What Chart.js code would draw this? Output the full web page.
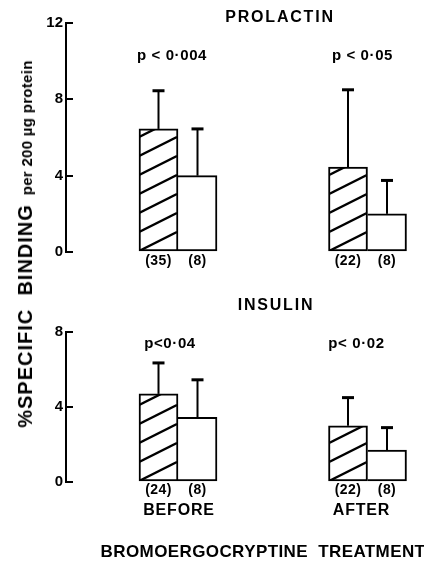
<!DOCTYPE html>
<html><head><meta charset="utf-8">
<script src="https://cdn.jsdelivr.net/npm/chart.js@4"></script>
<style>
html,body{margin:0;padding:0;background:#fff;width:424px;height:566px;overflow:hidden;}
canvas{position:absolute;left:0;}
.t{position:absolute;font-family:"Liberation Sans",Arial,sans-serif;font-weight:bold;color:#000;white-space:nowrap;transform:translate(-50%,-50%);line-height:1;}
</style></head><body>
<canvas id="c1" width="424" height="280" style="top:0px"></canvas>
<canvas id="c2" width="424" height="286" style="top:280px"></canvas>
<div class="t" style="left:280px;top:17px;font-size:16px;letter-spacing:1.8px">PROLACTIN</div>
<div class="t" style="left:276px;top:305px;font-size:16px;letter-spacing:1.8px">INSULIN</div>
<div class="t" style="left:263px;top:551px;font-size:17px;letter-spacing:0.4px">BROMOERGOCRYPTINE&nbsp; TREATMENT</div>
<div class="t" style="left:25px;top:244px;transform:translate(-50%,-50%) rotate(-90deg)"><span style="font-size:20px;letter-spacing:1px">%SPECIFIC&nbsp; BINDING</span><span style="font-size:15px;letter-spacing:0.3px">&nbsp; per 200 µg protein</span></div>
<script>
// ---- data ----
const categories = ['BEFORE', 'AFTER'];

const prolactinHatchedMean = [6.45, 4.45];
const prolactinHatchedSem  = [2.0, 4.05];
const prolactinHatchedN    = [35, 22];
const prolactinOpenMean    = [4.0, 2.0];
const prolactinOpenSem     = [2.45, 1.75];
const prolactinOpenN       = [8, 8];
const prolactinP           = ['p < 0·004', 'p < 0·05'];
const prolactinTicks       = [0, 4, 8, 12];

const insulinHatchedMean = [4.7, 3.0];
const insulinHatchedSem  = [1.65, 1.5];
const insulinHatchedN    = [24, 22];
const insulinOpenMean    = [3.45, 1.7];
const insulinOpenSem     = [2.0, 1.2];
const insulinOpenN       = [8, 8];
const insulinP           = ['p<0·04', 'p< 0·02'];
const insulinTicks       = [0, 4, 8];

// ---- styling ----
const FONT = '"Liberation Sans", Arial, sans-serif';

function makeHatch(ctx) {
  const W = 38, H = 19;
  const c = document.createElement('canvas');
  c.width = W; c.height = H;
  const g = c.getContext('2d');
  g.fillStyle = '#fff'; g.fillRect(0, 0, W, H);
  g.strokeStyle = '#000'; g.lineWidth = 2.4;
  for (let k = 0; k <= 2; k++) {
    g.beginPath(); g.moveTo(0, H * k); g.lineTo(W, H * (k - 1)); g.stroke();
  }
  return ctx.createPattern(c, 'repeat');
}

const annotPlugin = {
  id: 'annot',
  beforeDatasetsDraw(chart, args, o) {
    const bar = chart.getDatasetMeta(0).data[0];
    if (bar && o.pattern && o.pattern.setTransform) {
      o.pattern.setTransform(new DOMMatrix([1, 0, 0, 1, bar.x - bar.width / 2, bar.base]));
    }
  },
  afterDatasetsDraw(chart, args, o) {
    const ctx = chart.ctx, ys = chart.scales.y;
    ctx.save();
    ctx.strokeStyle = '#000'; ctx.fillStyle = '#000';
    ctx.textAlign = 'center'; ctx.textBaseline = 'middle';
    o.series.forEach((s, di) => {
      const meta = chart.getDatasetMeta(di);
      meta.data.forEach((bar, i) => {
        const top = ys.getPixelForValue(s.mean[i] + s.sem[i]);
        ctx.lineWidth = 2;
        ctx.beginPath(); ctx.moveTo(bar.x, bar.y); ctx.lineTo(bar.x, top); ctx.stroke();
        ctx.lineWidth = 3;
        ctx.beginPath(); ctx.moveTo(bar.x - 6, top); ctx.lineTo(bar.x + 6, top); ctx.stroke();
        ctx.font = 'bold 14px ' + FONT;
        ctx.letterSpacing = '0.4px';
        ctx.fillText('(' + s.n[i] + ')', bar.x, bar.base + o.nOffset);
      });
    });
    const m0 = chart.getDatasetMeta(0).data, m1 = chart.getDatasetMeta(1).data;
    m0.forEach((b, i) => {
      const cx = (b.x + m1[i].x) / 2;
      ctx.font = 'bold 15px ' + FONT;
      ctx.letterSpacing = '0.6px';
      ctx.fillText(o.p[i], cx + o.pDx[i], o.pY);
      if (o.groupLabels) {
        ctx.font = 'bold 16px ' + FONT;
        ctx.letterSpacing = '0.8px';
        ctx.fillText(categories[i], cx + o.gDx[i], b.base + o.gOffset);
      }
    });
    ctx.restore();
  }
};

function makeChart(id, cfg) {
  const canvas = document.getElementById(id);
  const ctx = canvas.getContext('2d');
  const pattern = makeHatch(ctx);
  const pts = arr => arr.map((v, i) => ({x: i, y: v}));
  const ticks = cfg.ticks;
  return new Chart(canvas, {
    type: 'bar',
    data: {
      datasets: [
        { label: 'hatched', data: pts(cfg.hatchedMean), backgroundColor: pattern,
          borderColor: '#000', borderWidth: {top: 2, left: 2, right: 2, bottom: 2},
          borderSkipped: false, barThickness: 39 },
        { label: 'open', data: pts(cfg.openMean), backgroundColor: '#fff',
          borderColor: '#000', borderWidth: {top: 2, left: 0, right: 2, bottom: 2},
          borderSkipped: false, barThickness: 39 }
      ]
    },
    options: {
      responsive: false, animation: false, devicePixelRatio: 1,
      layout: { padding: { left: 26, right: 4, top: cfg.padTop, bottom: cfg.padBottom } },
      plugins: {
        legend: { display: false }, tooltip: { enabled: false },
        annot: {
          pattern: pattern,
          series: [
            { mean: cfg.hatchedMean, sem: cfg.hatchedSem, n: cfg.hatchedN },
            { mean: cfg.openMean, sem: cfg.openSem, n: cfg.openN }
          ],
          nOffset: cfg.nOffset, p: cfg.p, pY: cfg.pY, pDx: cfg.pDx,
          groupLabels: cfg.groupLabels, gOffset: 30, gDx: [1, -6]
        }
      },
      scales: {
        x: { type: 'linear', display: false, offset: false, min: -0.591, max: 1.277 },
        y: {
          min: ticks[0], max: ticks[ticks.length - 1],
          afterBuildTicks: s => { s.ticks = ticks.map(v => ({value: v})); },
          afterFit: s => { s.width = 40; },
          ticks: { color: '#000', padding: 10, font: { family: FONT, size: 15, weight: 'bold' } },
          grid: { drawOnChartArea: false, tickLength: -7, color: '#000', lineWidth: 2 },
          border: { color: '#000', width: 2 }
        }
      }
    },
    plugins: [annotPlugin]
  });
}

makeChart('c1', {
  hatchedMean: prolactinHatchedMean, hatchedSem: prolactinHatchedSem, hatchedN: prolactinHatchedN,
  openMean: prolactinOpenMean, openSem: prolactinOpenSem, openN: prolactinOpenN,
  p: prolactinP, ticks: prolactinTicks, padTop: 23, padBottom: 28, pY: 56, pDx: [-6, -5],
  groupLabels: false, nOffset: 10
});
makeChart('c2', {
  hatchedMean: insulinHatchedMean, hatchedSem: insulinHatchedSem, hatchedN: insulinHatchedN,
  openMean: insulinOpenMean, openSem: insulinOpenSem, openN: insulinOpenN,
  p: insulinP, ticks: insulinTicks, padTop: 52, padBottom: 84, pY: 64, pDx: [-8, -11],
  groupLabels: true, nOffset: 9
});
</script>
</body></html>
